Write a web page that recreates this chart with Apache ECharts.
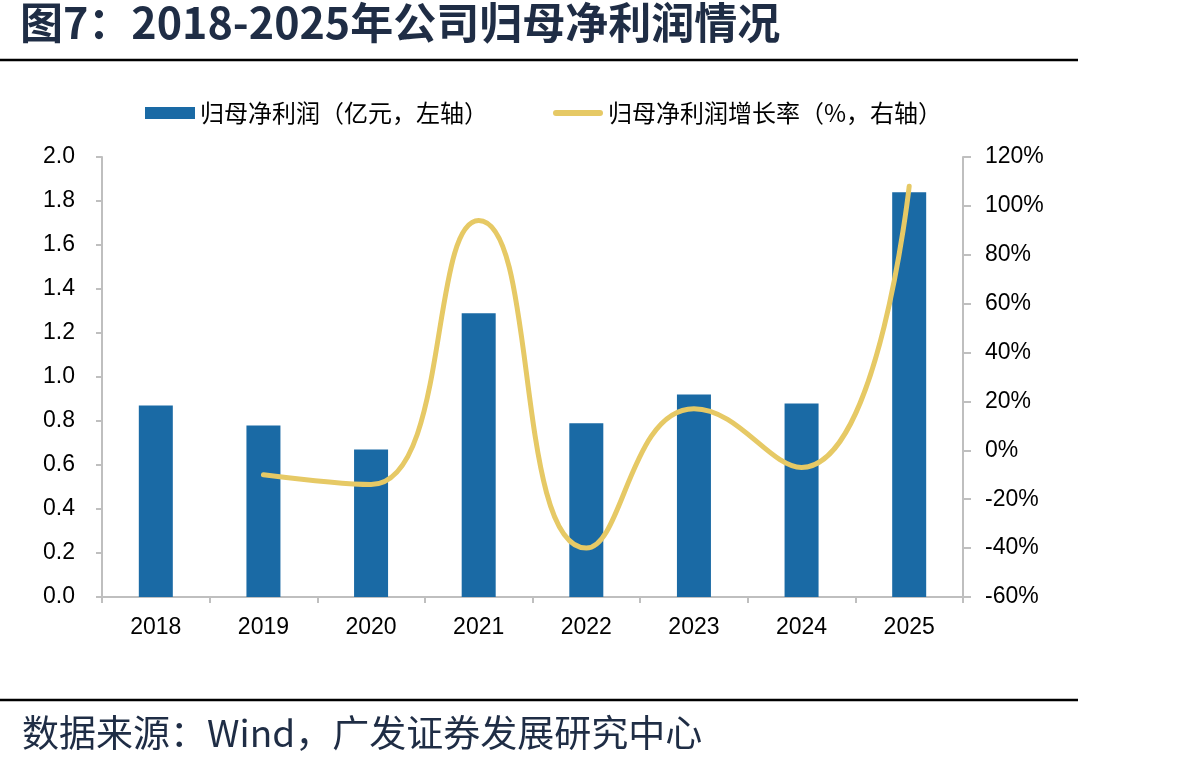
<!DOCTYPE html>
<html>
<head>
<meta charset="utf-8">
<script src="https://cdn.jsdelivr.net/npm/echarts@6/dist/echarts.min.js"></script>
<style>
  html, body { margin: 0; padding: 0; background: #fff; }
  #chart { width: 1189px; height: 769px; }
</style>
</head>
<body>
<div id="chart"></div>
<script>
// 年份
const years = ['2018', '2019', '2020', '2021', '2022', '2023', '2024', '2025'];
// 归母净利润（亿元）
const profit = [0.87, 0.78, 0.67, 1.29, 0.79, 0.92, 0.88, 1.84];
// 归母净利润增长率（%）
const growth = [null, -10, -14, 94, -40, 17, -7, 108];

const fontCn = '"Noto Sans CJK SC", sans-serif';
const fontNum = '"Liberation Sans", Arial, sans-serif';
const axisGrey = '#BFBFBF';

let myChart = echarts.init(document.getElementById('chart'));
myChart.setOption({
  animation: false,
  graphic: [
    // 标题
    {
      type: 'text', left: 20, top: 1,
      style: { text: '图7：2018-2025年公司归母净利润情况', font: 'bold 43px ' + fontCn, fill: '#1F2D45' }
    },
    // 顶部分隔线
    { type: 'line', shape: { x1: 0, y1: 60, x2: 1078, y2: 60 }, style: { stroke: '#000', lineWidth: 2.5 } },
    // 底部分隔线
    { type: 'line', shape: { x1: 0, y1: 700, x2: 1078, y2: 700 }, style: { stroke: '#000', lineWidth: 2.5 } },
    // 数据来源
    {
      type: 'text', left: 22, top: 714,
      style: { text: '数据来源：Wind，广发证券发展研究中心', font: '37px ' + fontCn, fill: '#1F2D45' }
    }
  ],
  color: ['#1A6AA5', '#E6C965'],
  legend: {
    left: 140,
    top: 96,
    itemGap: 65,
    textStyle: { fontFamily: fontCn, fontSize: 24, color: '#000' },
    data: [
      { name: '归母净利润（亿元，左轴）', icon: 'rect', itemStyle: { color: '#1A6AA5' } },
      { name: '归母净利润增长率（%，右轴）', icon: 'path://M3,0 L47,0 A3,3 0 0 1 47,6 L3,6 A3,3 0 0 1 3,0 Z', itemStyle: { color: '#E6C965' } }
    ],
    itemWidth: 50,
    itemHeight: 12
  },
  grid: { left: 102, right: 226, top: 157, bottom: 172 },
  xAxis: {
    type: 'category',
    data: years,
    axisLine: { lineStyle: { color: axisGrey, width: 2 } },
    axisTick: { show: true, length: 6, lineStyle: { color: axisGrey, width: 2 } },
    axisLabel: { fontFamily: fontNum, fontSize: 23, color: '#000', margin: 19 },
    splitLine: { show: false }
  },
  yAxis: [
    {
      type: 'value',
      min: 0,
      max: 2,
      interval: 0.2,
      axisLine: { show: true, lineStyle: { color: axisGrey, width: 2 } },
      axisTick: { show: true, length: 6, lineStyle: { color: axisGrey, width: 2 } },
      axisLabel: { fontFamily: fontNum, fontSize: 23, color: '#000', margin: 27, formatter: v => v.toFixed(1) },
      splitLine: { show: false }
    },
    {
      type: 'value',
      min: -60,
      max: 120,
      interval: 20,
      position: 'right',
      axisLine: { show: true, lineStyle: { color: axisGrey, width: 2 } },
      axisTick: { show: true, length: 8, lineStyle: { color: axisGrey, width: 2 } },
      axisLabel: { fontFamily: fontNum, fontSize: 23, color: '#000', margin: 22, formatter: '{value}%' },
      splitLine: { show: false }
    }
  ],
  series: [
    {
      name: '归母净利润（亿元，左轴）',
      type: 'bar',
      data: profit,
      barWidth: 34,
      yAxisIndex: 0,
      itemStyle: { color: '#1A6AA5' }
    },
    {
      name: '归母净利润增长率（%，右轴）',
      type: 'line',
      data: growth,
      yAxisIndex: 1,
      smooth: 0.5,
      showSymbol: false,
      lineStyle: { color: '#E6C965', width: 5, cap: 'round' },
      itemStyle: { color: '#E6C965' }
    }
  ]
});
</script>
</body>
</html>
